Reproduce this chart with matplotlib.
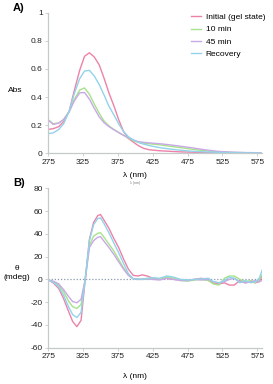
import matplotlib
matplotlib.use("Agg")
import matplotlib.pyplot as plt

plt.rcParams['font.family'] = ['Liberation Sans', 'DejaVu Sans']

# ---- panel A: absorbance ----
wl_a = [275, 282, 290, 297, 305, 312, 320, 327, 334, 341, 348, 355, 362, 369,
        376, 383, 390, 397, 404, 412, 420, 435, 450, 465, 480, 500, 520, 540,
        560, 580]
abs_initial = [0.17, 0.175, 0.19, 0.225, 0.30, 0.44, 0.59, 0.69, 0.715, 0.685,
               0.63, 0.535, 0.43, 0.34, 0.24, 0.155, 0.105, 0.08, 0.055, 0.035,
               0.025, 0.018, 0.014, 0.01, 0.008, 0.006, 0.004, 0.003, 0.003, 0.002]
abs_10min = [0.237, 0.21, 0.215, 0.24, 0.30, 0.38, 0.45, 0.465, 0.42, 0.35,
             0.285, 0.23, 0.195, 0.17, 0.148, 0.128, 0.107, 0.09, 0.078, 0.072,
             0.068, 0.06, 0.05, 0.04, 0.03, 0.018, 0.01, 0.006, 0.004, 0.003]
abs_45min = [0.237, 0.205, 0.215, 0.24, 0.295, 0.37, 0.43, 0.432, 0.385, 0.32,
             0.26, 0.218, 0.19, 0.168, 0.148, 0.128, 0.11, 0.095, 0.083, 0.078,
             0.074, 0.068, 0.06, 0.05, 0.04, 0.025, 0.013, 0.008, 0.005, 0.004]
abs_recovery = [0.14, 0.145, 0.17, 0.21, 0.30, 0.42, 0.53, 0.585, 0.59, 0.55,
                0.49, 0.415, 0.335, 0.275, 0.21, 0.155, 0.118, 0.095, 0.078, 0.065,
                0.055, 0.04, 0.03, 0.022, 0.015, 0.01, 0.006, 0.004, 0.003, 0.002]

# ---- panel B: circular dichroism ----
wl_b = [275, 282, 290, 297, 304, 310, 316, 322, 328, 334, 340, 346, 350, 355,
        362, 369, 376, 383, 390, 397, 404, 410, 417, 425, 435, 445, 455, 465,
        475, 485, 495, 505, 512, 520, 528, 535, 542, 550, 558, 566, 572, 578, 582]
cd_initial = [-0.5, -3, -8, -17, -28, -37, -41.5, -36, 0, 35, 50, 56, 57, 52,
              45, 36, 28, 18, 9, 3.5, 3, 4, 3, 1, 0, 1, 0, -0.5, -1, 0, 1, -1,
              -3, -4, -3, -5, -5, -1, -3, -2, -3, -2, 3]
cd_10min = [-0.5, -2, -5, -11, -19, -24, -25.5, -22, 0, 30, 38, 40.5, 41, 37,
            31, 25, 17.5, 10, 4, 0.5, 0, 0.5, 0, 0.5, 0, 2, 1, -1, -1.5, -0.5, 0,
            -1, -4, -5, 1, 3, 3, 0, -2, -1, -3, 0, 4]
cd_45min = [-0.5, -1.5, -4, -9, -15, -19.5, -20.5, -17.5, 0, 28, 34, 37, 37.5,
            33.5, 28, 22, 15.5, 9, 3.5, 0.5, 0, 0, 0.5, 0, -0.5, 1, 0, -1, -1, 0,
            -0.5, 0, -2, -3, -2, 0, 1, -2, -3, -2, -1, -2, -1]
cd_recovery = [-0.5, -2.5, -6.5, -14, -24, -31, -33.5, -29, 0, 34, 48, 53.5, 54,
               49, 41, 32, 23.5, 14, 5, 0.5, 0.5, 0, 1, 1.5, 1, 3, 2, 0, -0.5, 0,
               0.5, 1, -2, -3, -1, 2, 1, -3, -1, -3, -2, 1, 8]

labels = ['Initial (gel state)', '10 min', '45 min', 'Recovery']
colors = ['#ec82a8', '#a6e38a', '#c9a8e6', '#92d3ea']

x_ticks = [275, 325, 375, 425, 475, 525, 575]
spine_col = '#c4caca'

fig = plt.figure(figsize=(2.73, 3.84), dpi=100)
axA = fig.add_axes([0.177, 0.6008, 0.783, 0.3661])
axB = fig.add_axes([0.177, 0.0945, 0.783, 0.4151])

for ax in (axA, axB):
    for s in ('top', 'right'):
        ax.spines[s].set_visible(False)
    for s in ('left', 'bottom'):
        ax.spines[s].set_color(spine_col)
        ax.spines[s].set_linewidth(0.9)
    ax.tick_params(length=2, width=0.6, color=spine_col, labelsize=6,
                   labelcolor='#222222', pad=2)
    ax.set_xlim(275, 582)
    ax.set_xticks(x_ticks)
    ax.set_xticklabels([str(t) for t in x_ticks])

for ys, c, lab in zip([abs_initial, abs_10min, abs_45min, abs_recovery], colors, labels):
    axA.plot(wl_a, ys, color=c, lw=1.0, label=lab)
axA.set_ylim(0, 1)
axA.set_yticks([0, 0.2, 0.4, 0.6, 0.8, 1])
axA.set_yticklabels(['0', '0.2', '0.4', '0.6', '0.8', '1'])
axA.legend(loc='upper left', bbox_to_anchor=(0.65, 1.02), frameon=False,
           fontsize=6, handlelength=1.3, handletextpad=0.5, labelspacing=0.55,
           borderaxespad=0.0)

axB.axhline(0, color='#8a9aae', lw=0.9, ls=(0, (1, 1.5)))
for ys, c in zip([cd_initial, cd_10min, cd_45min, cd_recovery], colors):
    axB.plot(wl_b, ys, color=c, lw=1.0)
axB.set_ylim(-60, 80)
b_ticks = [-60, -40, -20, 0, 20, 40, 60, 80]
axB.set_yticks(b_ticks)
axB.set_yticklabels([str(t) for t in b_ticks])

fig.text(15 / 273, 1 - 90 / 384, 'Abs', fontsize=6, ha='center', va='center')
fig.text(17 / 273, 1 - 273 / 384, 'θ\n(mdeg)', fontsize=6, ha='center',
         va='center', linespacing=1.3)
fig.text(135 / 273, 1 - 175 / 384, 'λ (nm)', fontsize=6, ha='center', va='center')
fig.text(135 / 273, 1 - 183 / 384, 'λ (nm)', fontsize=2.5, ha='center',
         va='center', color='#777777')
fig.text(135 / 273, 1 - 377 / 384, 'λ (nm)', fontsize=6, ha='center', va='center')
fig.text(13 / 273, 1 - 8 / 384, 'A)', fontsize=8, fontweight='bold', ha='left', va='center')
fig.text(13 / 273, 1 - 183 / 384, 'B)', fontsize=8, fontweight='bold', ha='left', va='center')

fig.savefig('out.png', dpi=100)
